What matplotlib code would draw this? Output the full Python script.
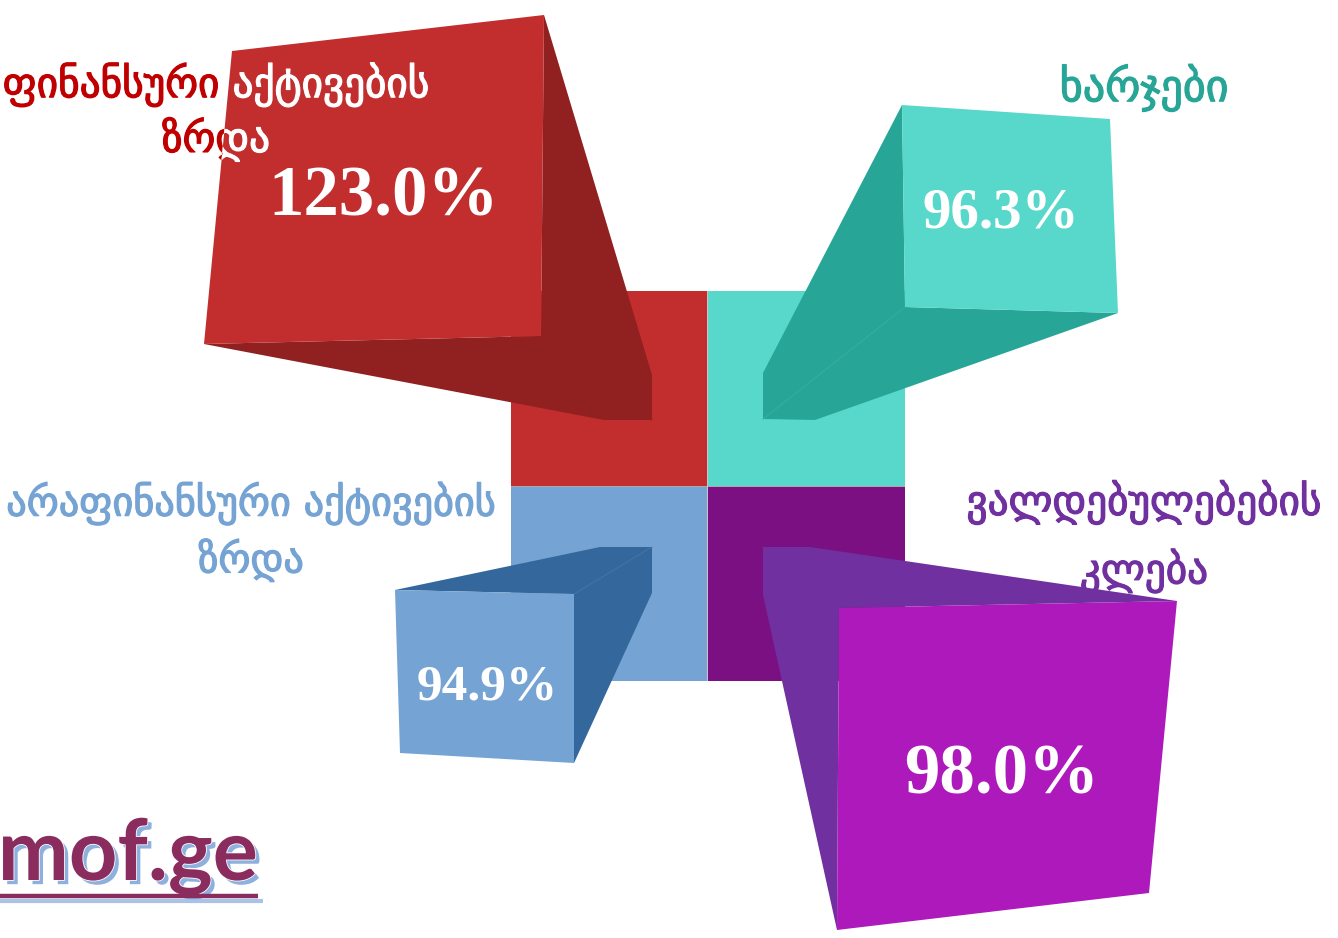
import matplotlib
matplotlib.use("Agg")
import matplotlib.pyplot as plt
import matplotlib.patheffects as pe
from matplotlib.patches import Polygon, Rectangle

# values and labels, clockwise from top left
labels = ["ფინანსური აქტივების\nზრდა", "ხარჯები", "ვალდებულებების\nკლება", "არაფინანსური აქტივების\nზრდა"]
values = [123.0, 96.3, 98.0, 94.9]

# colours
front_colors = ["#C22D2E", "#58D8CA", "#AE19BC", "#75A4D4"]
side_colors = ["#912020", "#27A698", "#7030A0", "#34689C"]
seam_colors = ["#912020", "#35AFA2", "#7030A0", "#4276AB"]
tile_colors = ["#C22D2E", "#58D8CA", "#7B1082", "#75A4D4"]
label_colors = ["#C00000", "#27A698", "#7030A0", "#75A4D4"]

# the picture is a drawing, so geometry is in reference pixels
tiles = [(511, 291, 196, 195), (708, 291, 197, 195), (708, 487, 197, 194), (511, 487, 196, 194)]
fronts = [
    [(232, 51), (544, 15), (541, 336), (204, 344)],
    [(902, 105), (1110, 119), (1118, 313), (905, 307)],
    [(839, 608), (1177, 601), (1149, 893), (837, 930)],
    [(395, 590), (574, 594), (574, 763), (400, 753)],
]
sides = [
    [(544, 15), (652, 375), (652, 420), (604, 420), (204, 344), (541, 336)],
    [(902, 105), (763, 373), (763, 419), (815, 420), (1118, 313), (905, 307)],
    [(763, 547), (810, 547), (1177, 601), (839, 608), (837, 930), (763, 595)],
    [(395, 590), (600, 547), (652, 547), (652, 593), (574, 763), (574, 594)],
]
seams = [
    [(541, 336), (652, 420)],
    [(905, 307), (763, 419)],
    [(839, 608), (763, 547)],
    [(574, 594), (652, 547)],
]
value_pos = [(384, 198), (1001, 214), (1002, 776), (487, 687)]
value_size = [51, 41, 51, 37]
label_pos = [(216, 112), (1144, 88), (1144, 537), (251, 532)]
label_size = [29.7, 31.8, 29.7, 29]
label_spacing = [1.3, 1.2, 1.72, 1.4]

fig = plt.figure(figsize=(13.38, 9.38), dpi=100)
ax = fig.add_axes([0, 0, 1, 1])
ax.set_xlim(0, 1338)
ax.set_ylim(938, 0)
ax.axis("off")

# pale gap showing between the four tiles
ax.add_patch(Rectangle((511, 486), 394, 1, color="#A9A9A9", lw=0, zorder=0.5))
ax.add_patch(Rectangle((707, 291), 1, 390, color="#D0C0C8", lw=0, zorder=0.5))
for (x, y, w, h), c in zip(tiles, tile_colors):
    ax.add_patch(Rectangle((x, y), w, h, color=c, lw=0, zorder=1))

front_patches = []
for i in range(4):
    ax.add_patch(Polygon(sides[i], closed=True, color=side_colors[i], lw=0, zorder=2))
    xs, ys = zip(*seams[i])
    ax.plot(xs, ys, color=seam_colors[i], lw=0.7, zorder=2.1)
    p = Polygon(fronts[i], closed=True, color=front_colors[i], lw=0, zorder=3)
    ax.add_patch(p)
    front_patches.append(p)

# thicken the strokes a little, the original face is heavier than DejaVu
thick = lambda c: [pe.withStroke(linewidth=0.9, foreground=c)]

# labels sit behind the boxes, except the red one which turns white over its box
for i in range(4):
    ax.text(*label_pos[i], labels[i], color=label_colors[i], fontsize=label_size[i],
            family="DejaVu Sans", ha="center", va="center", linespacing=label_spacing[i],
            multialignment="center", zorder=2.5 if i == 2 else 1.5,
            path_effects=thick(label_colors[i]))
over = ax.text(*label_pos[0], labels[0], color="white", fontsize=label_size[0],
               family="DejaVu Sans", ha="center", va="center", linespacing=label_spacing[0],
               multialignment="center", zorder=4, path_effects=thick("white"))
over.set_clip_path(front_patches[0])
over.set_clip_on(True)

for i in range(4):
    ax.text(*value_pos[i], f"{values[i]:.1f}%", color="white", fontsize=value_size[i],
            family="Liberation Serif", weight="bold", ha="center", va="center", zorder=5)

# site mark with soft blue shadow
ax.text(258, 880, "mof.ge", color="#8B2C5F", fontsize=61, family="Lato", weight="bold",
        ha="right", va="baseline", zorder=6,
        path_effects=[pe.SimplePatchShadow(offset=(3, -3), shadow_rgbFace="#8DB0DE", alpha=1.0),
                      pe.Stroke(linewidth=1.2, foreground="white"), pe.Normal()])
ax.plot([0, 263], [901, 901], color="#A9C3E8", lw=3, solid_capstyle="butt", zorder=5)
ax.plot([0, 258], [896, 896], color="#8B2C5F", lw=3.2, solid_capstyle="butt", zorder=6)

fig.savefig("out.png", dpi=100)
plt.close(fig)
